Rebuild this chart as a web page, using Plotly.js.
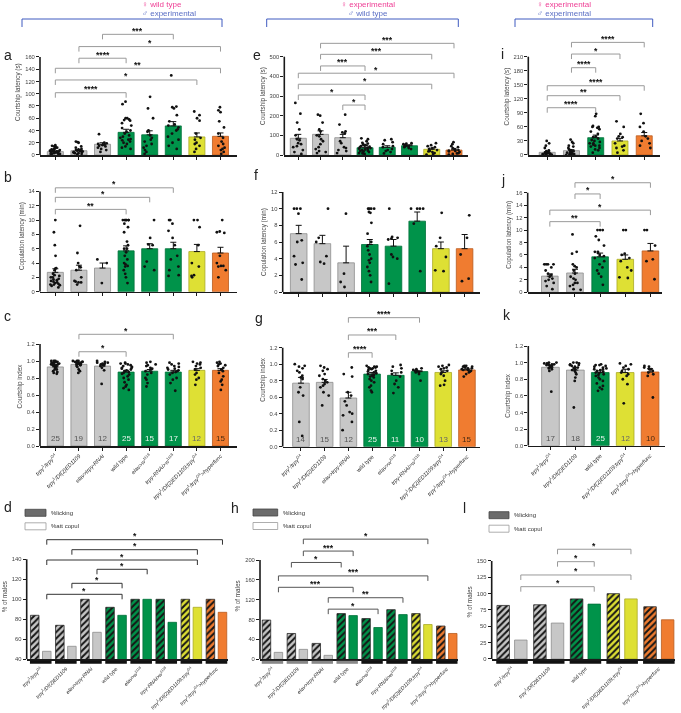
<!DOCTYPE html>
<html><head><meta charset="utf-8">
<script src="https://cdn.plot.ly/plotly-3.0.1.min.js"></script>
<style>html,body{margin:0;padding:0;background:#fff}#chart{width:681px;height:713px}#chart svg{will-change:transform}</style>
</head><body><div id="chart"></div>
<script>
// ================= DATA =================
const lab8 = ['<i>trpγ</i><sup>1</sup><i>/trpγ</i><sup>G4</sup>','<i>trpγ</i><sup>1</sup><i>/Df(2)ED1109</i>','<i>elav&gt;trpγ-RNAi</i>','wild type','<i>elav&gt;w</i><sup>1118</sup>','<i>trpγ-RNAi&gt;w</i><sup>1118</sup>','<i>trpγ</i><sup>1</sup><i>/Df(2)ED1109;trpγ</i><sup>G4</sup>','<i>trpγ</i><sup>1</sup><i>/trpγ</i><sup>G4</sup><i>&gt;hyperfunc</i>'];
const lab5 = [lab8[0], lab8[1], lab8[3], lab8[6], lab8[7]];
const grp8 = ['gray','gray','gray','green','green','green','yellow','orange'];
const grp5 = ['gray','gray','green','yellow','orange'];

// a: courtship latency (s), female wild type x male experimental
const aMean = [5.5,7,17.5,37,33,47.5,29.5,30.5];
const aSem  = [1,1.5,2.5,5,6.5,7,6.5,5.5];
const aPts = [
 [1,2,2,3,3,4,4,5,5,6,6,6,7,7,8,8,9,10,11,12,13,14,15,16,2],
 [1,2,3,3,4,5,5,6,6,7,8,8,9,10,12,14,20,21,22],
 [5,8,10,12,14,15,16,17,18,19,20,34],
 [10,12,14,18,20,22,24,25,26,28,30,32,35,38,40,44,48,52,56,57,58,60,60,83,87],
 [2,5,8,12,15,18,22,25,28,32,38,40,60,76,95],
 [10,15,20,25,30,35,40,42,45,48,50,55,65,76,78,79,130],
 [5,10,15,18,20,25,28,35,56,60,65,71],
 [2,5,8,10,12,15,18,22,28,35,45,55,70,73,78]];
const aSig = [[2,5,'***'],[1,7,'*'],[1,3,'****'],[0,7,'**'],[0,6,'*'],[0,3,'****']];

// b: copulation latency (min)
const bMean = [2.7,3.0,3.3,5.7,6.0,6.0,5.6,5.4];
const bSem  = [0.5,0.7,0.7,0.7,0.7,0.9,1.0,0.8];
const bPts = [
 [0.6,0.8,0.9,1.0,1.0,1.1,1.2,1.3,1.4,1.5,1.6,1.7,1.8,2.0,2.0,2.2,2.3,2.5,3.0,3.2,3.3,5.0,6.5,8.3,10],
 [1.0,1.3,1.3,1.4,1.5,2.0,3.0,3.4,3.5,4.0,5.4,9.2],
 [1.2,4.0,4.5],
 [1.2,2.0,2.5,3.0,3.5,3.6,3.8,4.0,4.5,5.0,5.5,6.0,6.0,6.5,7.0,8.3,9.0,9.5,10,10,10,10,10,10],
 [3.0,3.5,4.2,6.5,6.6,7.5,10],
 [2.2,2.3,3.0,3.5,4.5,5.0,6.5,7.5,8.5,9.5,10,10],
 [2.0,2.2,2.3,3.5,4.0,6.5,9.0,10,10],
 [2.0,3.0,3.5,3.6,3.6,4.0,5.0,8.2,8.3,8.4,10]];
const bSig = [[0,5,'*'],[0,4,'*'],[0,3,'**']];

// c: courtship index
const cMean = [0.93,0.96,0.94,0.87,0.88,0.87,0.89,0.89];
const cSem  = [0.01,0.01,0.02,0.02,0.02,0.02,0.02,0.02];
const cN    = [25,19,12,25,15,17,12,15];
const cPts = [
 [0.85,0.86,0.87,0.88,0.9,0.9,0.92,0.93,0.94,0.95,0.95,0.95,0.96,0.96,0.97,0.97,0.98,0.98,0.98,0.99,0.99,0.99,1.0,1.0,1.0],
 [0.86,0.88,0.9,0.93,0.94,0.95,0.96,0.96,0.97,0.97,0.98,0.98,0.98,0.99,0.99,0.99,1.0,1.0,1.0],
 [0.73,0.89,0.92,0.94,0.95,0.96,0.97,0.97,0.98,0.98,0.99,1.0],
 [0.66,0.68,0.7,0.72,0.75,0.78,0.8,0.82,0.84,0.85,0.86,0.87,0.88,0.89,0.9,0.91,0.92,0.92,0.93,0.94,0.95,0.96,0.97,0.97,0.98],
 [0.7,0.74,0.78,0.8,0.84,0.86,0.88,0.9,0.91,0.92,0.94,0.95,0.96,0.98,0.99],
 [0.65,0.74,0.78,0.8,0.84,0.86,0.87,0.88,0.89,0.9,0.91,0.92,0.93,0.94,0.96,0.97,0.98],
 [0.72,0.78,0.8,0.84,0.86,0.9,0.92,0.94,0.96,0.97,0.98,0.99],
 [0.66,0.72,0.76,0.78,0.82,0.86,0.88,0.9,0.92,0.94,0.95,0.96,0.97,0.98,0.99]];
const cSig = [[1,5,'*'],[1,3,'*']];

// d: % of males (licking / attempted copulation)
const dLick = [84,74,100,92,100,100,100,100];
const dAtt  = [48,53,67,84,100,77,92,87];
const dSig = [[0,1,7,1,'*'],[1,1,6,1,'*'],[0,1,6,1,'*'],[2,1,4,1,'*'],[1,1,3,1,'*'],[0,1,3,1,'*']];

// e: courtship latency (s), female experimental x male wild type
const eMean = [85,105,88,37,39,47,29,25];
const eSem  = [20,18,17,12,8,5,6,5];
const ePts = [
 [5,15,25,40,45,55,60,75,80,100,130,165,210,265],
 [10,15,20,30,40,55,70,80,95,100,120,130,165,200,205],
 [10,20,25,35,40,60,70,110,115,120,155,205],
 [5,8,10,12,15,18,20,22,25,28,30,32,35,38,40,42,45,48,50,55,58,62,70,80,85],
 [8,15,20,25,30,40,45,55,65,75,80],
 [30,35,40,42,45,48,50,55,58,60],
 [2,5,10,15,18,20,25,30,35,40,45,50,60],
 [2,5,8,10,15,18,20,22,25,30,35,40,45,55,65]];
const eSig = [[1,7,'***'],[1,6,'***'],[1,3,'***'],[0,7,'*'],[0,6,'*'],[0,3,'*'],[2,3,'*']];

// f: copulation latency (min)
const fMean = [7.0,5.8,3.5,5.7,5.5,8.5,5.2,5.2];
const fSem  = [1.0,1.0,2.0,0.6,0.8,1.1,0.8,1.7];
const fPts = [
 [1.5,3.3,3.5,4.3,6.0,6.2,9.4,10,10,10],
 [3.4,3.6,4.3,6.0,6.5,10],
 [0.6,1.2,2.2,9.4],
 [1.2,2.0,2.5,3.0,3.5,3.8,4.0,4.5,5.0,5.5,6.0,7.0,8.3,9.5,9.6,10,10,10,10],
 [1.0,4.0,4.2,4.5,6.3,6.4,6.5,6.6,10],
 [2.5,8.2,10,10,10,10],
 [2.5,2.6,4.2,5.5,6.5,9.5],
 [1.3,1.6,4.5,6.5,9.2]];

// g: courtship index
const gMean = [0.77,0.78,0.59,0.88,0.865,0.91,0.90,0.93];
const gSem  = [0.07,0.035,0.07,0.02,0.03,0.01,0.02,0.01];
const gN    = [14,15,12,25,11,10,13,15];
const gPts = [
 [0.13,0.3,0.62,0.66,0.72,0.82,0.84,0.86,0.9,0.92,0.95,0.97,0.98,1.0],
 [0.5,0.62,0.66,0.72,0.74,0.76,0.78,0.8,0.82,0.86,0.88,0.92,0.94,0.96,0.98],
 [0.2,0.3,0.38,0.4,0.42,0.5,0.55,0.62,0.66,0.85,0.88,0.96],
 [0.66,0.68,0.72,0.74,0.78,0.8,0.82,0.84,0.85,0.86,0.87,0.88,0.89,0.9,0.91,0.92,0.93,0.94,0.95,0.95,0.96,0.96,0.97,0.97,0.98],
 [0.65,0.72,0.76,0.8,0.85,0.88,0.9,0.92,0.95,0.97,0.99],
 [0.8,0.88,0.9,0.9,0.91,0.92,0.92,0.93,0.94,0.95],
 [0.74,0.75,0.8,0.86,0.88,0.9,0.92,0.94,0.95,0.96,0.97,0.98,0.99],
 [0.85,0.88,0.9,0.91,0.92,0.93,0.93,0.94,0.95,0.95,0.96,0.97,0.97,0.98,0.98]];
const gSig = [[2,5,'****'],[2,4,'***'],[2,3,'****']];

// h: % of males
const hLick = [79,52,32,92,82,100,92,67];
const hAtt  = [14,20,8,88,64,90,70,52];
const hSig = [[1,1,6,1,'*'],[1,1,3,1,'***'],[1,0,3,0,'*'],[0,1,6,1,'***'],[0,1,3,1,'***'],[2,1,5,1,'**'],[2,1,4,1,'*']];

// i: courtship latency (s), female experimental x male experimental
const iMean = [5.7,9.3,37,30,41];
const iSem  = [1.5,2,5.5,5.5,7];
const iPts = [
 [0,1,1,2,2,3,3,4,5,5,6,8,10,15,20,25,30],
 [0,1,2,2,3,4,5,6,7,8,10,12,15,18,20,25,28,33],
 [5,10,12,15,18,20,20,22,25,25,28,30,32,35,38,40,45,50,55,58,60,60,62,83,88],
 [5,10,15,18,20,25,35,38,40,45,60,72],
 [15,20,25,30,35,40,50,60,68,88]];
const iSig = [[1,4,'****'],[1,3,'*'],[1,2,'****'],[0,4,'****'],[0,3,'**'],[0,2,'****']];

// j: copulation latency (min)
const jMean = [2.6,3.1,5.7,5.3,6.65];
const jSem  = [0.35,0.6,0.6,0.7,1.2];
const jPts = [
 [0.5,1.0,1.5,1.8,2.0,2.2,2.5,2.8,3.0,3.5,4.0,4.5,4.5,4.5,4.5],
 [0.4,0.5,1.0,1.2,1.5,1.5,2.0,2.2,2.5,3.0,3.5,4.0,4.2,4.5,6.2,6.5,9.3],
 [1.2,2.5,3.0,3.5,4.0,4.5,5.0,5.5,5.8,6.0,6.3,6.5,6.5,7.5,8.4,9.0,10,10,10],
 [2.3,2.4,3.5,4.0,5.0,5.5,6.0,6.2,10,10],
 [2.1,5.0,5.3,7.5,10,10]];
const jSig = [[1,4,'*'],[1,2,'*'],[0,4,'*'],[0,2,'**']];

// k: courtship index
const kMean = [0.944,0.91,0.88,0.88,0.887];
const kSem  = [0.02,0.03,0.02,0.04,0.04];
const kN    = [17,18,25,12,10];
const kPts = [
 [0.65,0.9,0.92,0.93,0.94,0.95,0.96,0.96,0.97,0.97,0.98,0.98,0.98,0.99,0.99,1.0,1.0],
 [0.46,0.78,0.82,0.86,0.88,0.9,0.91,0.92,0.93,0.94,0.95,0.96,0.97,0.97,0.98,0.99,1.0,1.0],
 [0.66,0.68,0.7,0.72,0.75,0.78,0.8,0.82,0.84,0.85,0.86,0.87,0.88,0.89,0.9,0.91,0.92,0.92,0.93,0.94,0.95,0.96,0.97,0.97,0.98],
 [0.51,0.74,0.8,0.84,0.86,0.88,0.9,0.92,0.94,0.96,0.98,0.99],
 [0.58,0.84,0.86,0.88,0.9,0.92,0.92,0.94,0.95,0.96]];

// l: % of males
const lLick = [82,83,92,100,80];
const lAtt  = [29,55,84,92,60];
const lSig = [[1,1,3,1,'*'],[1,1,2,1,'*'],[0,1,3,1,'*'],[0,1,2,1,'*']];

const headers = [['♀ wild type','♂ experimental'],['♀ experimental','♂ wild type'],['♀ experimental','♂ experimental']];

// ================= STYLE / LAYOUT =================
const W = 681, H = 713;
const FONT = 'Arial, "Liberation Sans", sans-serif';
const COL = {gray:'#c7c7c7', green:'#00934a', yellow:'#dee034', orange:'#f07c30'};
const EDGE = {gray:'#8e8e8e', green:'#00703a', yellow:'#a9a925', orange:'#b95c20'};
const NCOL = {gray:'#555', green:'#eaf6ee', yellow:'#666', orange:'#4a2a10'};

const traces = [], shapes = [], annotations = [];
const layout = {width:W, height:H, margin:{l:0,r:0,t:0,b:0}, showlegend:false, barmode:'overlay',
  paper_bgcolor:'#fff', plot_bgcolor:'rgba(0,0,0,0)', font:{family:FONT, color:'#333'}};
const px = v => v / W, py = v => 1 - v / H;
const range = (a, b, s) => { const r = []; for (let v = a; v <= b + 1e-9; v += s) r.push(+v.toFixed(4)); return r; };

let axN = 0;
function addPanel(p) {
  axN++;
  const sfx = axN === 1 ? '' : String(axN);
  const xa = 'x' + sfx, ya = 'y' + sfx;
  const ppu = (p.y0 - p.yTop) / (p.vMax - p.vMin);
  const topPx = p.y0 - (p.vExt - p.vMin) * ppu;
  const n = p.labels.length;
  layout['xaxis' + sfx] = {domain:[px(p.x0), px(p.x1)], range:p.xr, anchor:ya, showline:true, linecolor:'#1a1a1a',
    linewidth:1.6, ticks:p.xticks ? 'outside' : '', ticklen:3, tickwidth:1, tickcolor:'#1a1a1a',
    tickvals:range(0, n - 1, 1), ticktext:p.labels, showticklabels:!!p.showLabels, tickangle:-45,
    ticklabelstandoff:p.labStand || 0, tickfont:{size:p.labSize || 5.6, color:'#333'}, showgrid:false, zeroline:false, fixedrange:true};
  layout['yaxis' + sfx] = {domain:[py(p.y0), py(topPx)], range:[p.vMin, p.vExt], anchor:xa, showline:false,
    ticks:'outside', ticklen:3, tickwidth:1, tickcolor:'#1a1a1a', tickvals:p.yticks, tickformat:p.fmt || '',
    tickfont:{size:5.8, color:'#444'}, showgrid:false, zeroline:false, fixedrange:true,
    title:{text:p.ytitle, font:{size:6.3, color:'#444'}, standoff:3}};
  shapes.push({type:'line', xref:xa + ' domain', yref:ya, x0:0, x1:0, y0:p.vMin, y1:p.vMax, line:{color:'#1a1a1a', width:1.6}});
  annotations.push({xref:'paper', yref:'paper', x:px(p.letter[0]), y:py(p.letter[1]), xanchor:'left', yanchor:'middle',
    text:p.letter[2], showarrow:false, font:{size:14, color:'#222', family:FONT}});
  return {xa, ya, ppu};
}

function barsWithDots(ax, grp, mean, sem, pts, width) {
  const xs = mean.map((_, i) => i);
  traces.push({type:'bar', x:xs, y:mean, width:width, xaxis:ax.xa, yaxis:ax.ya, hoverinfo:'skip',
    marker:{color:grp.map(g => COL[g]), line:{color:grp.map(g => EDGE[g]), width:0.8}},
    error_y:{type:'data', symmetric:false, array:sem, arrayminus:sem.map(() => 0), color:'#111', thickness:1, width:3}});
  const bx = [], by = [];
  pts.forEach((g, i) => g.forEach(v => { bx.push(i); by.push(v); }));
  traces.push({type:'box', x:bx, y:by, xaxis:ax.xa, yaxis:ax.ya, boxpoints:'all', jitter:0.85, pointpos:0,
    width:width * 0.9, fillcolor:'rgba(0,0,0,0)', line:{width:0, color:'rgba(0,0,0,0)'}, whiskerwidth:0,
    marker:{color:'#111', size:2.8}, hoverinfo:'skip'});
}

function nLabels(ax, grp, ns, y) {
  ns.forEach((n, i) => annotations.push({xref:ax.xa, yref:ax.ya, x:i, y:y, text:String(n), showarrow:false,
    font:{size:8, color:NCOL[grp[i]], family:FONT}}));
}

function bracket(ax, x0, x1, y, label, color) {
  const drop = 5 / ax.ppu;
  shapes.push({type:'path', xref:ax.xa, yref:ax.ya, path:`M ${x0},${y - drop} L ${x0},${y} L ${x1},${y} L ${x1},${y - drop}`,
    line:{color:color, width:1}});
  annotations.push({xref:ax.xa, yref:ax.ya, x:(x0 + x1) / 2, y:y, yanchor:'bottom', yshift:-3.5, text:'<b>' + label + '</b>',
    showarrow:false, font:{size:8.6, color:'#111', family:FONT}});
}

const OFF = 0.24, BW = 0.34;
function pairBars(ax, grp, lick, att, lineCols) {
  const xs = lick.map((_, i) => i);
  // hatched (%licking) bars: one trace per bar so the stripe colour can be set
  xs.forEach(i => traces.push({type:'bar', x:[i - OFF], y:[lick[i]], width:BW, xaxis:ax.xa, yaxis:ax.ya, hoverinfo:'skip',
    marker:{color:COL[grp[i]], line:{color:'#2a2a2a', width:0.8},
      pattern:{shape:'/', fillmode:'overlay', fgcolor:'#151515', fgopacity:1, size:4.5, solidity:0.45}}}));
  traces.push({type:'bar', x:xs.map(i => i + OFF), y:att, width:BW, xaxis:ax.xa, yaxis:ax.ya, hoverinfo:'skip',
    marker:{color:grp.map(g => COL[g]), line:{color:grp.map(g => EDGE[g]), width:0.8}}});
  xs.forEach(i => shapes.push({type:'line', xref:ax.xa, yref:'paper', x0:i - 0.43, x1:i + 0.43, y0:py(662.3), y1:py(662.3),
    line:{color:lineCols[i], width:3}}));
}
const sidePos = (i, s) => i + (s ? OFF : -OFF);

function legendBoxes(x0, x1, yTop) {
  shapes.push({type:'rect', xref:'paper', yref:'paper', x0:px(x0), x1:px(x1), y0:py(yTop + 7), y1:py(yTop), fillcolor:'#6c6c6c', line:{color:'#444', width:0.8}});
  shapes.push({type:'rect', xref:'paper', yref:'paper', x0:px(x0), x1:px(x1), y0:py(yTop + 20.5), y1:py(yTop + 13.5), fillcolor:'#fff', line:{color:'#999', width:0.8}});
  annotations.push({xref:'paper', yref:'paper', x:px(x1 + 3), y:py(yTop + 3.5), xanchor:'left', yanchor:'middle', text:'%licking', showarrow:false, font:{size:6, color:'#333'}});
  annotations.push({xref:'paper', yref:'paper', x:px(x1 + 3), y:py(yTop + 17), xanchor:'left', yanchor:'middle', text:'%att copul', showarrow:false, font:{size:6, color:'#333'}});
}

// ---------- column 1 ----------
const A = addPanel({x0:40, x1:237, xr:[-0.65, 7.7], y0:155, yTop:57, vMin:0, vMax:160, vExt:205, yticks:range(0,160,20),
  ytitle:'Courtship latency (s)', labels:lab8, xticks:true, letter:[2, 55, 'a']});
barsWithDots(A, grp8, aMean, aSem, aPts, 0.68);
[197, 177, 158, 141.6, 122.5, 101.7].forEach((y, k) => bracket(A, aSig[k][0], aSig[k][1], y, aSig[k][2], '#9a9a9a'));

const B = addPanel({x0:40, x1:237, xr:[-0.65, 7.7], y0:291.7, yTop:191.4, vMin:0, vMax:14, vExt:15.5, yticks:range(0,14,2),
  ytitle:'Copulation latency (min)', labels:lab8, xticks:true, letter:[2, 177, 'b']});
barsWithDots(B, grp8, bMean, bSem, bPts, 0.68);
[14.5, 13.17, 11.49].forEach((y, k) => bracket(B, bSig[k][0], bSig[k][1], y, bSig[k][2], '#9a9a9a'));

const C = addPanel({x0:40, x1:237, xr:[-0.65, 7.7], y0:446, yTop:344, vMin:0, vMax:1.2, vExt:1.4, yticks:range(0,1.2,0.2), fmt:'.1f',
  ytitle:'Courtship index', labels:lab8, xticks:true, showLabels:true, letter:[2, 316, 'c']});
barsWithDots(C, grp8, cMean, cSem, cPts, 0.68);
nLabels(C, grp8, cN, 0.085);
[1.314, 1.109].forEach((y, k) => bracket(C, cSig[k][0], cSig[k][1], y, cSig[k][2], '#9a9a9a'));

const D = addPanel({x0:26.7, x1:228, xr:[-0.56, 7.46], y0:659.3, yTop:559.3, vMin:40, vMax:140, vExt:165, yticks:range(40,140,20),
  ytitle:'% of males', labels:lab8, xticks:false, showLabels:true, labStand:3, labSize:5.2, letter:[2, 507, 'd']});
pairBars(D, grp8, dLick, dAtt, grp8.map(() => '#111'));
[159.6, 149.6, 139.3, 130, 116, 105].forEach((y, k) => { const s = dSig[k];
  bracket(D, sidePos(s[0], s[1]), sidePos(s[2], s[3]), y, s[4], '#333'); });
legendBoxes(25, 46, 509.3);

// ---------- column 2 ----------
const E = addPanel({x0:284.3, x1:468, xr:[-0.63, 7.63], y0:155, yTop:56.7, vMin:0, vMax:500, vExt:600, yticks:range(0,500,100),
  ytitle:'Courtship latency (s)', labels:lab8, xticks:true, letter:[251, 55, 'e']});
barsWithDots(E, grp8, eMean, eSem, ePts, 0.72);
[568, 512, 453, 416, 360, 305, 254].forEach((y, k) => bracket(E, eSig[k][0], eSig[k][1], y, eSig[k][2], '#9a9a9a'));

const F = addPanel({x0:282.7, x1:480, xr:[-0.675, 7.65], y0:292, yTop:192, vMin:0, vMax:12, vExt:12, yticks:range(0,12,2),
  ytitle:'Copulation latency (min)', labels:lab8, xticks:true, letter:[252, 175, 'f']});
barsWithDots(F, grp8, fMean, fSem, fPts, 0.7);

const G = addPanel({x0:282.7, x1:480, xr:[-0.77, 7.55], y0:446.7, yTop:347.7, vMin:0, vMax:1.2, vExt:1.62, yticks:range(0,1.2,0.2), fmt:'.1f',
  ytitle:'Courtship index', labels:lab8, xticks:true, showLabels:true, letter:[253, 318, 'g']});
barsWithDots(G, grp8, gMean, gSem, gPts, 0.7);
nLabels(G, grp8, gN, 0.085);
[1.564, 1.354, 1.139].forEach((y, k) => bracket(G, gSig[k][0], gSig[k][1], y, gSig[k][2], '#9a9a9a'));

const Hh = addPanel({x0:260, x1:458, xr:[-0.5, 7.45], y0:659.3, yTop:560, vMin:0, vMax:200, vExt:255, yticks:range(0,200,40),
  ytitle:'% of males', labels:lab8, xticks:false, showLabels:true, labStand:3, labSize:5.2, letter:[229, 508, 'h']});
pairBars(Hh, grp8, hLick, hAtt, ['#888','#888','#888','#888','#111','#111','#111','#111']);
[242, 218, 195, 168, 145, 124, 101].forEach((y, k) => { const s = hSig[k];
  bracket(Hh, sidePos(s[0], s[1]), sidePos(s[2], s[3]), y, s[4], '#555'); });
legendBoxes(253, 277.7, 509);

// ---------- column 3 ----------
const I = addPanel({x0:528.3, x1:660, xr:[-0.78, 4.65], y0:155, yTop:56.7, vMin:0, vMax:210, vExt:250, yticks:range(0,210,30),
  ytitle:'Courtship latency (s)', labels:lab5, xticks:true, letter:[499, 54, 'i']});
barsWithDots(I, grp5, iMean, iSem, iPts, 0.66);
[240.6, 215.7, 186.5, 148, 126.7, 101].forEach((y, k) => bracket(I, iSig[k][0], iSig[k][1], y, iSig[k][2], '#9a9a9a'));

const J = addPanel({x0:527.7, x1:662, xr:[-0.88, 4.46], y0:292.3, yTop:192.7, vMin:0, vMax:16, vExt:18.5, yticks:range(0,16,2),
  ytitle:'Copulation latency (min)', labels:lab5, xticks:true, letter:[499, 180, 'j']});
barsWithDots(J, grp5, jMean, jSem, jPts, 0.66);
[17.6, 15.8, 13.2, 11.35].forEach((y, k) => bracket(J, jSig[k][0], jSig[k][1], y, jSig[k][2], '#9a9a9a'));

const K = addPanel({x0:528.3, x1:665, xr:[-0.89, 4.6], y0:445.7, yTop:346, vMin:0, vMax:1.2, vExt:1.2, yticks:range(0,1.2,0.2), fmt:'.1f',
  ytitle:'Courtship index', labels:lab5, xticks:true, showLabels:true, letter:[501, 315, 'k']});
barsWithDots(K, grp5, kMean, kSem, kPts, 0.71);
nLabels(K, grp5, kN, 0.085);

const L = addPanel({x0:491.7, x1:675, xr:[-0.553, 4.44], y0:659, yTop:561, vMin:0, vMax:150, vExt:175, yticks:range(0,150,25),
  ytitle:'% of males', labels:lab5, xticks:false, showLabels:true, labStand:3, labSize:5.2, letter:[461, 508, 'l']});
pairBars(L, grp5, lLick, lAtt, grp5.map(() => '#111'));
[168, 149, 128.6, 110.7].forEach((y, k) => { const s = lSig[k];
  bracket(L, sidePos(s[0], s[1]), sidePos(s[2], s[3]), y, s[4], '#999'); });
legendBoxes(489, 509, 511.7);

// ---------- headers ----------
[[140, 22, 222], [368.3, 266.7, 458.3], [593.3, 515, 652.7]].forEach((h, k) => {
  annotations.push({xref:'paper', yref:'paper', x:px(h[0]), y:py(4.4), text:headers[k][0], showarrow:false,
    font:{size:8, color:'#ee3d94'}, yanchor:'middle'});
  annotations.push({xref:'paper', yref:'paper', x:px(h[0]), y:py(13.6), text:headers[k][1], showarrow:false,
    font:{size:8, color:'#5b6fc4'}, yanchor:'middle'});
  shapes.push({type:'path', xref:'paper', yref:'paper',
    path:`M ${px(h[1])},${py(27)} L ${px(h[1])},${py(19)} L ${px(h[2])},${py(19)} L ${px(h[2])},${py(27)}`,
    line:{color:'#3f5bc0', width:1}});
});

layout.shapes = shapes;
layout.annotations = annotations;
Plotly.newPlot('chart', traces, layout, {displayModeBar:false, staticPlot:true});
</script>
</body></html>
